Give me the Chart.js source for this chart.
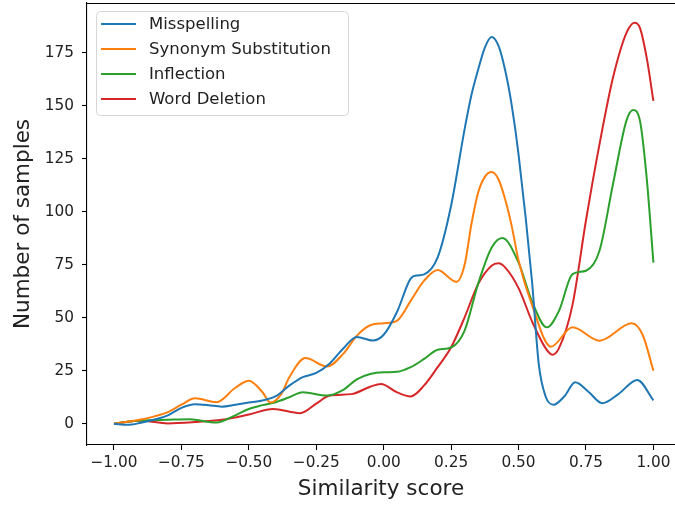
<!DOCTYPE html>
<html>
<head>
<meta charset="utf-8">
<script src="https://cdn.jsdelivr.net/npm/chart.js@4.4.0/dist/chart.umd.min.js"></script>
<style>
  html, body { margin: 0; padding: 0; background: #fff; }
  #wrap { width: 675px; height: 508px; }
</style>
</head>
<body>
<div id="wrap"><canvas id="myChart" width="675" height="508"></canvas></div>
<script>
// Data ------------------------------ { data }
const seriesNames = ["Misspelling", "Synonym Substitution", "Inflection", "Word Deletion"];
const seriesColors = ["#1f77b4", "#ff7f0e", "#2ca02c", "#d62728"];

const misspellingX = [-1, -0.95, -0.9, -0.85, -0.8, -0.75, -0.7, -0.65, -0.6, -0.55, -0.5, -0.45, -0.4, -0.35, -0.3, -0.25, -0.2, -0.15, -0.1, -0.04, 0, 0.05, 0.1, 0.125, 0.15, 0.2, 0.25, 0.3, 0.325, 0.35, 0.375, 0.4, 0.425, 0.45, 0.475, 0.5, 0.55, 0.575, 0.6, 0.63, 0.67, 0.71, 0.76, 0.81, 0.87, 0.94, 1];
const misspellingY = [0, -0.5, 0.5, 2, 4, 7.5, 9.2, 8.8, 8.1, 9, 10, 11, 13, 18, 22, 24, 28.5, 35.5, 41, 39.3, 42, 53, 68.5, 70, 70.5, 78.5, 103, 139, 155, 167, 177.5, 182.5, 178.5, 167, 150, 127, 67, 28, 13, 9, 13, 19.6, 15, 9.7, 14, 20.7, 11];

const synonymX = [-1, -0.95, -0.9, -0.85, -0.8, -0.75, -0.7, -0.62, -0.55, -0.5, -0.45, -0.42, -0.38, -0.35, -0.29, -0.21, -0.15, -0.1, -0.05, 0, 0.05, 0.1, 0.15, 0.2, 0.27, 0.3, 0.325, 0.35, 0.375, 0.4, 0.425, 0.45, 0.475, 0.5, 0.55, 0.62, 0.7, 0.8, 0.92, 0.96, 1];
const synonymY = [0, 1, 2, 3.5, 5.5, 9, 12, 10.2, 17, 20.3, 15, 10, 14, 22, 31, 27, 33, 41.5, 46.5, 47.4, 48.7, 58, 67.5, 72.5, 67, 75, 94, 109, 116.5, 118.8, 115.5, 106, 93, 77, 56, 36.4, 45.5, 39.2, 47.4, 42, 25];

const inflectionX = [-1, -0.95, -0.9, -0.8, -0.72, -0.62, -0.55, -0.5, -0.45, -0.4, -0.35, -0.3, -0.21, -0.15, -0.1, -0.05, 0, 0.05, 0.1, 0.15, 0.2, 0.25, 0.3, 0.35, 0.4, 0.44, 0.5, 0.55, 0.605, 0.65, 0.7, 0.75, 0.8, 0.85, 0.9, 0.925, 0.95, 0.975, 1];
const inflectionY = [0, 1, 1.6, 1.9, 2.1, 0.6, 4, 7, 8.8, 10.2, 12.5, 14.9, 13.3, 16, 21, 23.5, 24.3, 24.5, 26.7, 30.6, 34.9, 36, 44, 66, 83, 87.6, 76, 57.7, 45.5, 53.3, 70.6, 72.2, 81.6, 113, 143, 148, 143, 116, 76];

const deletionX = [-1, -0.95, -0.9, -0.8, -0.7, -0.6, -0.5, -0.41, -0.31, -0.25, -0.2, -0.12, -0.05, -0.01, 0.05, 0.1, 0.15, 0.2, 0.25, 0.3, 0.35, 0.4, 0.425, 0.45, 0.5, 0.55, 0.6, 0.625, 0.65, 0.7, 0.75, 0.8, 0.85, 0.9, 0.93, 0.95, 0.975, 1];
const deletionY = [0, 1, 1.4, 0.2, 0.8, 1.9, 4.4, 7, 5, 9.5, 13.3, 14, 17.5, 18.8, 14.8, 12.9, 18.1, 26.7, 36.1, 50.2, 65.9, 74.6, 75.7, 73.8, 64, 48.3, 35.7, 32.6, 35.7, 56.1, 96, 131.8, 163.2, 184.4, 189.2, 186.8, 172.7, 152.3];

const xTicks = [-1, -0.75, -0.5, -0.25, 0, 0.25, 0.5, 0.75, 1];
const yTicks = [0, 25, 50, 75, 100, 125, 150, 175];

const allX = [misspellingX, synonymX, inflectionX, deletionX];
const allY = [misspellingY, synonymY, inflectionY, deletionY];

const FONT = "'DejaVu Sans', 'Liberation Sans', sans-serif";

// Legend drawn inside the plot (matplotlib style) ----------- { legend }
const boxLegend = {
  id: "boxLegend",
  afterDatasetsDraw(chart) {
    const ctx = chart.ctx;
    const area = chart.chartArea;
    const fontSize = 16.5;
    ctx.save();
    ctx.font = fontSize + "px " + FONT;
    let maxW = 0;
    chart.data.datasets.forEach((ds) => {
      maxW = Math.max(maxW, ctx.measureText(ds.label).width);
    });
    const x0 = area.left + 9;
    const y0 = area.top + 8;
    const w = 62 + maxW + 8;
    const h = 104;
    // box
    ctx.beginPath();
    ctx.roundRect(x0 + 0.5, y0 + 0.5, w, h, 4);
    ctx.fillStyle = "rgba(255,255,255,0.8)";
    ctx.fill();
    ctx.strokeStyle = "#d6d6d6";
    ctx.lineWidth = 1;
    ctx.stroke();
    // rows
    chart.data.datasets.forEach((ds, i) => {
      const cy = y0 + 13 + i * 25;
      ctx.beginPath();
      ctx.moveTo(x0 + 5, cy);
      ctx.lineTo(x0 + 40, cy);
      ctx.strokeStyle = ds.borderColor;
      ctx.lineWidth = 2;
      ctx.stroke();
      ctx.fillStyle = "#222";
      ctx.textBaseline = "middle";
      ctx.textAlign = "left";
      ctx.fillText(ds.label, x0 + 53, cy + 1);
    });
    ctx.restore();
  },
  afterDraw(chart) {
    // top spine
    const ctx = chart.ctx;
    const area = chart.chartArea;
    ctx.save();
    ctx.beginPath();
    ctx.moveTo(area.left, area.top + 0.5);
    ctx.lineTo(area.right, area.top + 0.5);
    ctx.strokeStyle = "#000";
    ctx.lineWidth = 1.1;
    ctx.stroke();
    ctx.restore();
  },
};

const ctx = document.getElementById("myChart").getContext("2d");
const myChart = new Chart(ctx, {
  type: "line",
  data: {
    datasets: seriesNames.map((name, i) => ({
      label: name,
      data: allX[i].map((x, j) => ({ x: x, y: allY[i][j] })),
      borderColor: seriesColors[i],
      backgroundColor: seriesColors[i],
      borderWidth: 2,
      pointRadius: 0,
      fill: false,
      cubicInterpolationMode: "monotone",
    })),
  },
  options: {
    responsive: false,
    animation: false,
    events: [],
    layout: { padding: { top: 3, right: 0, bottom: 0, left: 0 } },
    scales: {
      x: {
        type: "linear",
        min: -1.1,
        max: 1.08,
        afterBuildTicks: (scale) => {
          scale.ticks = xTicks.map((v) => ({ value: v }));
        },
        afterFit: (scale) => {
          scale.height = 63;
          scale.paddingLeft = 0;
          scale.paddingRight = 0;
        },
        grid: { display: true, drawOnChartArea: false, tickLength: 5, color: "#000", tickWidth: 1.1 },
        border: { display: true, color: "#000", width: 1.1 },
        ticks: {
          autoSkip: false,
          maxRotation: 0,
          padding: 4,
          color: "#222",
          font: { family: FONT, size: 15.3 },
          callback: (v) => (v < 0 ? "\u2212" + Math.abs(v).toFixed(2) : v.toFixed(2)),
        },
        title: {
          display: true,
          text: "Similarity score",
          color: "#222",
          font: { family: FONT, size: 21.5 },
          padding: { top: 0, bottom: 6 },
        },
      },
      y: {
        min: -10,
        max: 198.5,
        afterBuildTicks: (scale) => {
          scale.ticks = yTicks.map((v) => ({ value: v }));
        },
        afterFit: (scale) => {
          scale.width = 87;
          scale.paddingTop = 0;
          scale.paddingBottom = 0;
        },
        grid: { display: true, drawOnChartArea: false, tickLength: 5, color: "#000", tickWidth: 1.1 },
        border: { display: true, color: "#000", width: 1.1 },
        ticks: {
          padding: 8,
          color: "#222",
          font: { family: FONT, size: 15.3 },
          callback: (v) => String(v),
        },
        title: {
          display: true,
          text: "Number of samples",
          color: "#222",
          font: { family: FONT, size: 21.5 },
          padding: { top: 11, bottom: 0 },
        },
      },
    },
    plugins: {
      legend: { display: false },
      tooltip: { enabled: false },
    },
  },
  plugins: [boxLegend],
});
</script>
</body>
</html>
